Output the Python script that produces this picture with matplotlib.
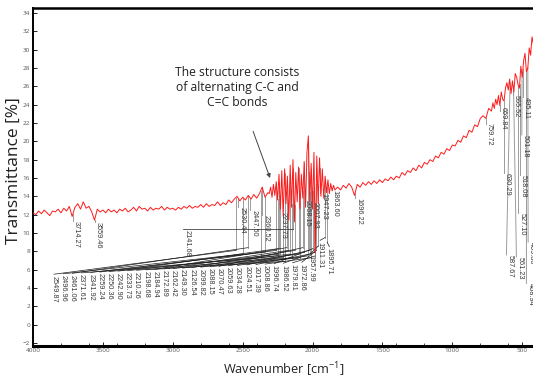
import numpy as np
import matplotlib
matplotlib.use("Agg")
import matplotlib.pyplot as plt
from matplotlib.ticker import MultipleLocator, FixedLocator
import matplotlib.transforms as mtransforms

# ---------------- data ----------------
wn_a = np.arange(4000, 2319, -20)
t_a = [12.2, 12.0, 12.4, 12.1, 12.5, 12.2, 11.9, 12.4, 12.3, 12.6,
       12.2, 12.7, 12.4, 12.9, 11.8, 12.8, 13.2, 12.6, 13.4, 12.7,
       12.9, 12.3, 11.4, 12.6, 12.3, 12.5, 12.2, 12.6, 12.3, 12.5,
       12.2, 12.6, 12.4, 12.7, 12.3, 12.5, 12.8, 12.4, 12.9, 12.6,
       12.7, 12.4, 12.8, 12.5, 12.7, 12.6, 12.9, 12.5, 12.8, 12.6,
       12.7, 12.5, 12.8, 12.6, 12.9, 12.7, 13.0, 12.7, 12.9, 12.8,
       13.1, 12.8, 13.2, 12.9, 13.1, 13.0, 13.4, 13.0, 13.3, 13.1,
       13.6, 13.3, 13.7, 14.0, 13.5, 13.9, 13.6, 14.1, 13.7, 14.2,
       13.8, 14.3, 15.0, 13.9, 14.4]
wn_b = np.arange(2310, 1839, -10)
t_b = [14.3, 15.0, 13.9, 15.3, 14.1, 15.6, 13.6, 16.4, 12.6, 16.8,
       11.8, 17.0, 13.2, 16.2, 11.4, 17.4, 12.8, 18.0, 11.2, 16.6,
       13.4, 17.2, 12.6, 16.4, 13.8, 17.8, 12.8, 18.8, 20.6, 13.4,
       17.6, 12.6, 18.8, 7.8, 18.4, 13.2, 18.2, 14.0, 17.0, 13.8,
       16.2, 14.4, 15.8, 14.3, 15.4, 14.6, 15.2, 14.7]
wn_c = np.arange(1820, 719, -20)
t_c = [15.0, 14.7, 15.2, 14.9, 15.4, 15.0, 14.1, 15.3, 15.0, 15.5,
       15.2, 15.6, 15.3, 15.7, 15.4, 15.8, 15.5, 15.9, 15.7, 16.1,
       15.8, 16.2, 16.0, 16.6, 16.3, 16.8, 16.6, 17.1, 16.8, 17.4,
       17.1, 17.7, 17.5, 18.0, 17.8, 18.4, 18.2, 18.8, 18.6, 19.2,
       19.0, 19.6, 19.5, 20.1, 19.9, 20.6, 20.4, 21.2, 21.0, 21.8,
       21.6, 22.5, 22.8, 22.5, 23.6, 23.3]
wn_d = np.arange(710, 419, -10)
t_d = [24.2, 23.6, 24.6, 24.0, 25.0, 23.9, 25.4, 24.6, 24.4, 25.8,
       26.4, 25.6, 26.8, 25.2, 26.6, 25.4, 27.4, 27.0, 26.2, 25.8,
       28.2, 27.0, 28.8, 29.6, 27.6, 28.0, 30.2, 29.4, 31.4, 30.6]

# peak labels
low_peaks = ["2549.87", "2496.96", "2461.06", "2371.61", "2341.92", "2259.24",
             "2250.36", "2242.90", "2233.73", "2210.26", "2198.68", "2184.94",
             "2172.89", "2162.42", "2149.30", "2126.54", "2099.82", "2088.15",
             "2070.47", "2059.63", "2034.28", "2024.51", "2017.39", "2008.86",
             "1996.74", "1986.52", "1979.81", "1972.86", "1957.99", "1911.31",
             "1895.71"]
up_peaks = ["3714.27", "3559.46", "2530.44", "2447.50", "2360.52", "2237.73",
            "2068.15", "2007.93", "1947.23", "1863.60", "1696.22"]
side_peak = "2141.68"
right_peaks = ["759.72", "659.84", "630.29", "565.52", "587.67", "561.23",
               "527.10", "518.08", "501.18", "495.11", "468.94", "459.80"]

y_ticks = list(range(-2, 35, 2))
x_ticks = [4000, 3500, 3000, 2500, 2000, 1500, 1000, 500]

# ---------------- layout of the label cloud ----------------
low_slots = np.linspace(3850, 1880, len(low_peaks))
low_tops = list(np.linspace(5.5, 6.8, 28)) + [7.8, 9.2, 8.5]
low_knees = [8.1, 7.7, 8.4, 7.3, 7.9, 8.1, 7.5, 8.3, 7.7, 7.3, 6.9, 8.4, 8.1,
             7.7, 7.3, 8.1, 7.7, 7.3, 8.4, 7.9, 7.5, 8.1, 7.7, 7.3, 8.3, 7.9,
             7.5, 8.1, 8.6, 9.5, 9.0]
up_tops = [11.3, 11.2, 12.8, 12.5, 12.0, 12.3, 13.6, 13.4, 14.4, 14.7, 13.8]
side_slot, side_top, side_level = 2924.7, 10.3, 10.4
right_slots = [759.72, 659.84, 630.29, 565.52, 613.0, 541.5,
               527.10, 518.08, 503.0, 495.11, 469.9, 457.7]
right_tops = [22.0, 23.8, 16.5, 25.1, 7.6, 7.4, 12.2, 16.3, 20.7, 24.8, 4.5, 9.0]

plt.rcParams['font.family'] = ['Open Sans', 'DejaVu Sans']
plt.rcParams['mathtext.default'] = 'regular'

fig = plt.figure(figsize=(5.33, 3.83), dpi=100)
ax = fig.add_axes([33 / 533, 1 - 345.7 / 383, 503.2 / 533, 337.7 / 383])

wn = np.concatenate([wn_a, wn_b, wn_c, wn_d])
tr = np.concatenate([t_a, t_b, t_c, t_d])
ax.plot(wn, tr, color='#ff1a1a', lw=0.7, zorder=3)

def spec(p):
    return np.interp(p, wn[::-1], tr[::-1])

GRAY = '#9c9c9c'
DARK = '#1e1e1e'
TXT = '#3a3a3a'
lab_kw = dict(rotation=270, ha='center', va='top', fontsize=5.3,
              color=TXT, family=['Liberation Sans', 'DejaVu Sans'], zorder=4)
shift = mtransforms.offset_copy(ax.transData, fig=fig, x=2.6, y=0, units='points')

# bottom row with fanned leaders
for lab, sx, top, kn in zip(low_peaks, low_slots, low_tops, low_knees):
    p = float(lab)
    ax.plot([p, p], [spec(p), kn], color=GRAY, lw=0.7, zorder=2)
    ax.plot([p, sx], [kn, top], color=DARK, lw=0.5, zorder=2)
    ax.text(sx, top - 0.15, lab, **lab_kw)

# labels directly under their peak
for lab, top in zip(up_peaks, up_tops):
    p = float(lab)
    ax.plot([p, p], [spec(p), top], color=GRAY, lw=0.7, zorder=2)
    ax.text(p, top, lab, transform=shift, **lab_kw)

# side label with horizontal leader
p = float(side_peak)
ax.plot([p, p], [spec(p), side_level], color=GRAY, lw=0.7, zorder=2)
ax.plot([p, side_slot], [side_level, side_level], color=DARK, lw=0.5, zorder=2)
ax.text(side_slot, side_top, side_peak, transform=shift, **lab_kw)

# right side labels
for lab, sx, top in zip(right_peaks, right_slots, right_tops):
    p = float(lab)
    s = spec(p)
    ax.plot([p, p, sx], [s, s - 0.6, top], color=GRAY, lw=0.7, zorder=2)
    ax.text(sx, top, lab, transform=shift, **lab_kw)

# annotation
ax.annotate("The structure consists\nof alternating C-C and\nC=C bonds",
            xy=(2304, 16.0), xytext=(2540, 25.9), ha='center', va='center',
            fontsize=8.7, color='#222222', linespacing=1.22,
            arrowprops=dict(arrowstyle='-|>', color='#444444', lw=0.7,
                            mutation_scale=6, shrinkA=15, shrinkB=0))

ax.set_xlim(4000, 400)
ax.set_ylim(-2.3, 34.55)
ax.xaxis.set_major_locator(FixedLocator(x_ticks))
ax.xaxis.set_minor_locator(MultipleLocator(200))
ax.yaxis.set_major_locator(FixedLocator(y_ticks))
ax.tick_params(axis='both', which='major', direction='in', length=3, width=0.6,
               labelsize=4.6, labelcolor='#555555', pad=2)
ax.tick_params(axis='x', which='minor', direction='in', length=2, width=0.5)

ax.spines['left'].set_linewidth(1.4)
ax.spines['bottom'].set_linewidth(2.2)
ax.spines['top'].set_linewidth(1.8)
ax.spines['right'].set_linewidth(1.4)

fig.text(14 / 533, 1 - 171 / 383, "Transmittance [%]", rotation=90,
         ha='center', va='center', fontsize=12.5, color='#222222')
fig.text(284 / 533, 1 - 370 / 383, "Wavenumber [cm$^{-1}$]",
         ha='center', va='center', fontsize=9.2, color='#222222')

fig.savefig("out.png", dpi=100)
